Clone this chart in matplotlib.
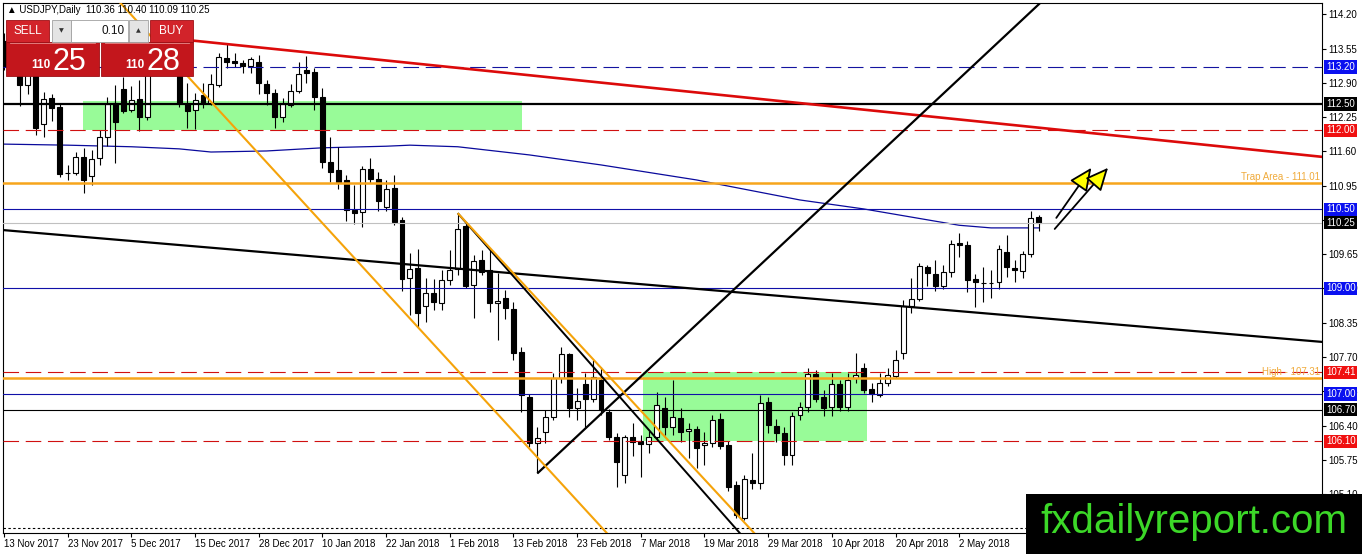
import matplotlib
matplotlib.use('Agg')
import matplotlib.pyplot as plt
from matplotlib.patches import Rectangle
import numpy as np

plt.rcParams['font.family'] = ['Liberation Sans', 'DejaVu Sans']

# ---------------- data ----------------
opens = [113.70, 113.22, 113.42, 112.87, 113.08, 112.12, 112.62, 112.45, 111.19, 111.19,
         111.50, 111.14, 111.48, 111.88, 112.52, 112.79, 112.39, 112.60, 112.26, 113.10,
         113.48, 113.55, 113.50, 112.50, 112.39, 112.67, 112.52, 112.87, 113.38, 113.32,
         113.28, 113.23, 113.30, 112.88, 112.71, 112.26, 112.49, 112.75, 113.15, 113.11,
         112.64, 111.40, 111.25, 111.06, 110.49, 110.45, 111.27, 111.08, 110.55, 110.91,
         110.30, 109.20, 109.39, 108.67, 108.91, 108.72, 109.16, 109.37, 110.19, 109.07,
         109.54, 109.35, 108.72, 108.82, 108.61, 107.79, 106.95, 106.06, 106.27, 106.56,
         107.30, 107.75, 106.73, 107.18, 106.90, 107.26, 106.65, 106.18, 105.47, 106.18,
         106.10, 106.04, 106.18, 106.73, 106.37, 106.54, 106.29, 106.33, 106.03, 106.06,
         106.52, 106.03, 105.27, 104.64, 105.36, 105.30, 106.84, 106.40, 106.25, 105.84,
         106.60, 106.75, 107.38, 106.94, 106.75, 107.18, 106.75, 107.30, 107.49, 107.09,
         106.98, 107.20, 107.34, 107.77, 108.67, 108.80, 109.41, 109.27, 109.05, 109.31,
         109.86, 109.83, 109.18, 109.10, 109.11, 109.12, 109.69, 109.39, 109.33, 109.65,
         110.36]
highs = [113.85, 113.62, 113.48, 113.22, 113.20, 112.73, 112.69, 112.50, 111.35, 111.59,
         111.67, 111.63, 112.01, 112.64, 112.87, 113.02, 112.85, 112.95, 113.15, 113.55,
         113.65, 113.75, 113.60, 112.90, 112.71, 112.90, 113.07, 113.47, 113.64, 113.47,
         113.34, 113.40, 113.44, 112.96, 112.78, 112.62, 112.88, 113.30, 113.42, 113.19,
         112.81, 111.88, 111.69, 111.16, 110.97, 111.33, 111.48, 111.21, 111.06, 111.16,
         110.35, 109.67, 109.75, 109.20, 109.18, 109.35, 109.73, 110.43, 110.26, 109.64,
         109.73, 109.73, 109.29, 108.97, 108.74, 107.89, 107.00, 106.37, 106.69, 107.39,
         107.89, 107.77, 107.11, 107.39, 107.64, 107.51, 106.72, 106.25, 106.22, 106.44,
         106.22, 106.29, 107.03, 106.94, 107.26, 106.73, 106.44, 106.40, 106.27, 106.60,
         106.63, 106.10, 105.35, 105.46, 105.87, 106.98, 106.94, 106.52, 106.37, 106.65,
         106.84, 107.49, 107.45, 107.07, 107.39, 107.26, 107.39, 107.77, 107.58, 107.20,
         107.39, 107.49, 107.83, 108.78, 109.20, 109.48, 109.45, 109.54, 109.45, 109.92,
         110.05, 109.90, 109.28, 109.41, 109.35, 109.83, 110.02, 109.54, 109.71, 110.47,
         110.40]
lows = [113.15, 113.05, 112.47, 112.69, 111.92, 111.88, 112.18, 111.12, 111.06, 111.15,
        110.81, 110.97, 111.35, 111.71, 111.38, 112.33, 112.35, 111.99, 112.20, 113.05,
        113.25, 113.30, 112.45, 112.05, 112.03, 112.42, 112.49, 112.83, 113.19, 113.21,
        113.09, 113.09, 112.69, 112.49, 112.05, 112.16, 112.45, 112.71, 112.90, 112.39,
        111.29, 111.02, 110.89, 110.28, 110.22, 110.17, 111.00, 110.47, 110.47, 110.21,
        108.95, 108.50, 108.27, 108.36, 108.60, 108.59, 109.07, 109.26, 109.01, 108.44,
        109.25, 108.55, 108.02, 108.42, 107.64, 106.65, 106.00, 105.49, 106.06, 106.50,
        107.20, 106.56, 106.50, 106.37, 106.85, 106.60, 106.12, 105.23, 105.30, 105.82,
        105.42, 105.87, 106.10, 106.22, 106.22, 106.08, 105.78, 105.59, 105.65, 106.00,
        105.95, 105.15, 104.64, 104.60, 105.20, 105.20, 106.25, 106.08, 105.65, 105.65,
        106.50, 106.65, 106.85, 106.58, 106.58, 106.67, 106.67, 107.20, 107.01, 106.84,
        106.95, 107.15, 107.30, 107.66, 108.53, 108.76, 109.05, 108.95, 108.99, 109.22,
        109.60, 108.93, 108.65, 108.74, 108.82, 108.99, 109.22, 109.12, 109.20, 109.60,
        110.09]
closes = [113.22, 113.42, 112.87, 113.08, 112.05, 112.60, 112.43, 111.17, 111.20, 111.50,
          111.06, 111.46, 111.88, 112.50, 112.16, 112.37, 112.58, 112.26, 113.10, 113.48,
          113.55, 113.52, 112.52, 112.37, 112.58, 112.52, 112.88, 113.40, 113.30, 113.28,
          113.23, 113.36, 112.90, 112.71, 112.26, 112.50, 112.75, 113.07, 113.09, 112.64,
          111.40, 111.21, 111.02, 110.49, 110.43, 111.27, 111.08, 110.66, 110.89, 110.26,
          109.18, 109.37, 108.53, 108.91, 108.74, 109.16, 109.35, 110.13, 109.05, 109.52,
          109.31, 108.72, 108.76, 108.63, 107.77, 106.97, 106.06, 106.16, 106.56, 107.30,
          107.75, 106.73, 106.86, 106.90, 107.32, 106.69, 106.18, 105.70, 106.18, 106.08,
          106.04, 106.18, 106.79, 106.37, 106.56, 106.27, 106.33, 105.97, 106.06, 106.50,
          106.01, 105.23, 104.70, 105.38, 105.30, 106.82, 106.41, 106.25, 105.84, 106.58,
          106.75, 107.38, 106.90, 106.73, 107.18, 106.75, 107.26, 107.36, 107.07, 106.99,
          107.20, 107.36, 107.64, 108.67, 108.80, 109.43, 109.29, 109.05, 109.31, 109.84,
          109.83, 109.16, 109.12, 109.11, 109.10, 109.75, 109.41, 109.35, 109.65, 110.34,
          110.25]

date_labels = ['13 Nov 2017', '23 Nov 2017', '5 Dec 2017', '15 Dec 2017', '28 Dec 2017',
               '10 Jan 2018', '22 Jan 2018', '1 Feb 2018', '13 Feb 2018', '23 Feb 2018',
               '7 Mar 2018', '19 Mar 2018', '29 Mar 2018', '10 Apr 2018', '20 Apr 2018',
               '2 May 2018']
date_label_bars = [0, 8, 16, 24, 32, 40, 48, 56, 64, 72, 80, 88, 96, 104, 112, 120]

price_ticks = [114.20, 113.55, 112.90, 112.25, 111.60, 110.95, 110.30, 109.65, 109.00,
               108.35, 107.70, 107.05, 106.40, 105.75, 105.10]

# moving average (read at selected bars)
ma_bars = [0, 8, 16, 22, 26, 33, 40, 48, 51, 57, 66, 75, 87, 100, 108, 120, 124, 130]
ma_vals = [111.74, 111.72, 111.69, 111.65, 111.59, 111.61, 111.67, 111.70, 111.72, 111.69,
           111.535, 111.345, 111.06, 110.68, 110.51, 110.20, 110.15, 110.15]

# horizontal levels: (price, color, style, width, label box color)
hlines = [
    (113.20, '#1414a0', 'dash', 0.8, '#0a10f0'),
    (112.50, '#000000', 'solid', 1.6, '#000000'),
    (112.00, '#d01010', 'dash', 0.8, '#f01010'),
    (111.01, '#f7a51c', 'solid', 1.8, None),
    (110.50, '#1010a8', 'solid', 0.8, '#0a10f0'),
    (110.25, '#c0c0c0', 'solid', 0.8, '#000000'),
    (109.00, '#1010a8', 'solid', 0.8, '#0a10f0'),
    (107.41, '#d01010', 'dash', 0.8, '#f01010'),
    (107.31, '#f7a51c', 'solid', 1.8, None),
    (107.00, '#1010a8', 'solid', 0.8, '#0a10f0'),
    (106.70, '#000000', 'solid', 0.8, '#000000'),
    (106.10, '#d01010', 'dash', 0.8, '#f01010'),
]
dotted_level = 104.46

# trend lines: ((bar, price), (bar, price), color, width)
trendlines = [
    ((21, 113.747), (170, 111.43), '#dc0a0a', 1.9),
    ((-1, 110.12), (170, 107.93), '#000000', 1.6),
    ((67, 105.49), (135, 115.10), '#000000', 1.6),
    ((57, 110.43), (95, 103.92), '#000000', 1.4),
    ((57, 110.43), (97, 103.91), '#f5a30a', 1.5),
    ((13, 114.685), (77, 104.15), '#f5a30a', 1.5),
]

# zones: (bar_start, bar_end, price_low, price_high)
zones = [(9.92, 65.1, 112.00, 112.56), (80.3, 108.4, 106.10, 107.41)]

# arrows: (tail bar, tail price, tip bar, tip price)
arrows = [(132.2, 110.34, 136.6, 111.29), (132.0, 110.13, 138.7, 111.29)]

level_texts = [(111.01, 'Trap Area - 111.01'), (107.31, 'High - 107.31')]

symbol_header = '\u25b2 USDJPY,Daily  110.36 110.40 110.09 110.25'
sell_big, buy_big, price_head, lot = '25', '28', '110', '0.10'

# ---------------- figure ----------------
W, H = 1362, 554
fig = plt.figure(figsize=(W / 100, H / 100), dpi=100)
fig.patch.set_facecolor('white')

L, R, T, B = 3, 1322, 3, 533
ax = fig.add_axes([L / W, (H - B) / H, (R - L) / W, (B - T) / H])
ax.set_xlim(-0.126, 165.58)
ax.set_ylim(104.36, 114.418)
for s in ax.spines.values():
    s.set_linewidth(0.8)
    s.set_color('black')

# zones
for b0, b1, p0, p1 in zones:
    ax.add_patch(Rectangle((b0, p0), b1 - b0, p1 - p0, facecolor='#98fb98',
                           edgecolor='none', zorder=1))

# moving average
ax.plot(ma_bars, ma_vals, color='#0a0a9c', lw=0.9, zorder=2)

# candles
o = np.array(opens); h = np.array(highs); l = np.array(lows); c = np.array(closes)
x = np.arange(len(o))
bull = c >= o
ax.vlines(x, l, h, color='black', lw=0.8, zorder=3)
ax.bar(x[bull], (c - o)[bull], bottom=o[bull], width=0.62, facecolor='white',
       edgecolor='black', linewidth=0.8, zorder=3.1)
ax.bar(x[~bull], (o - c)[~bull], bottom=c[~bull], width=0.62, facecolor='black',
       edgecolor='black', linewidth=0.8, zorder=3.1)

# horizontal levels
for p, col, sty, lw, box in hlines:
    if sty == 'dash':
        ax.axhline(p, color=col, lw=lw, dashes=(14, 6), zorder=4)
    else:
        ax.axhline(p, color=col, lw=lw, zorder=4)
ax.axhline(dotted_level, color='black', lw=0.8, dashes=(2.2, 2.2), zorder=4)

# trend lines
for (b0, p0), (b1, p1), col, lw in trendlines:
    ax.plot([b0, b1], [p0, p1], color=col, lw=lw, zorder=4.5, solid_capstyle='butt')

# level texts
for p, txt in level_texts:
    ax.annotate(txt, xy=(1, p), xycoords=('axes fraction', 'data'), xytext=(-2, 1),
                textcoords='offset pixels', ha='right', va='bottom', fontsize=7,
                color='#f0ab3c', zorder=5, annotation_clip=False)

# arrows
for tb, tp, hb, hp in arrows:
    ax.annotate('', xy=(hb, hp), xytext=(tb, tp),
                arrowprops=dict(arrowstyle='-|>,head_length=0.7,head_width=0.32',
                                fc='#ffff00', ec='black', lw=1.3, mutation_scale=20,
                                shrinkA=0, shrinkB=0), zorder=6)

# axes ticks
ax.yaxis.tick_right()
ax.set_yticks(price_ticks)
ax.set_yticklabels(['%.2f' % t for t in price_ticks])
ax.tick_params(axis='y', direction='out', length=3, width=0.8, pad=1.5,
               labelsize=7, colors='black')
ax.set_xticks(date_label_bars)
ax.set_xticklabels(date_labels, ha='left')
ax.tick_params(axis='x', direction='out', length=3, width=0.8, pad=1.5, labelsize=7)

# price boxes on right axis
for p, col, sty, lw, box in hlines:
    if box is None:
        continue
    ax.annotate('%.2f' % p, xy=(1, p), xycoords=('axes fraction', 'data'),
                xytext=(4, 0), textcoords='offset pixels', ha='left', va='center',
                fontsize=7, color='white', zorder=7, annotation_clip=False,
                bbox=dict(boxstyle='square,pad=0.18', fc=box, ec='none'))

# ---------------- overlay (panel, header, watermark) ----------------
ov = fig.add_axes([0, 0, 1, 1], zorder=10)
ov.set_xlim(0, W); ov.set_ylim(H, 0); ov.axis('off')
ov.patch.set_alpha(0)

ov.text(7, 10, symbol_header, fontsize=7, ha='left', va='center', color='black')

red_btn, red_box = '#d2232a', '#c3161c'
ov.add_patch(Rectangle((6, 20), 43, 22, fc=red_btn, ec='#9e1015', lw=0.6))
ov.add_patch(Rectangle((150, 20), 43, 22, fc=red_btn, ec='#9e1015', lw=0.6))
ov.add_patch(Rectangle((6, 42), 93, 34, fc=red_box, ec='#9e1015', lw=0.6))
ov.add_patch(Rectangle((101, 42), 92, 34, fc=red_box, ec='#9e1015', lw=0.6))
ov.plot([10, 95], [43, 43], color='#e88a8a', lw=0.6)
ov.plot([105, 189], [43, 43], color='#e88a8a', lw=0.6)
ov.add_patch(Rectangle((52, 20), 19, 22, fc='#e4e4e4', ec='#a0a0a0', lw=0.6))
ov.add_patch(Rectangle((71, 20), 57, 22, fc='white', ec='#a0a0a0', lw=0.6))
ov.add_patch(Rectangle((129, 20), 19, 22, fc='#e4e4e4', ec='#a0a0a0', lw=0.6))
ov.text(61.5, 31, '\u25bc', fontsize=4.5, ha='center', va='center', color='#333333',
        family=['DejaVu Sans'])
ov.text(138.5, 31, '\u25b2', fontsize=4.5, ha='center', va='center', color='#333333',
        family=['DejaVu Sans'])
ov.text(125, 31.5, lot, fontsize=8.5, ha='right', va='center', color='#111111')
ov.text(27.5, 31.5, 'SELL', fontsize=8.5, ha='center', va='center', color='white')
ov.text(171.5, 31.5, 'BUY', fontsize=8.5, ha='center', va='center', color='white')
ov.text(51, 68.5, price_head, fontsize=8.5, ha='right', va='baseline', color='white',
        fontweight='bold')
ov.text(52, 70, sell_big, fontsize=22, ha='left', va='baseline', color='white')
ov.text(144, 68.5, price_head, fontsize=8.5, ha='right', va='baseline', color='white',
        fontweight='bold')
ov.text(146, 70, buy_big, fontsize=22, ha='left', va='baseline', color='white')

ov.add_patch(Rectangle((1026, 494), 336, 60, fc='black', ec='none'))
ov.text(1194, 522, 'fxdailyreport.com', fontsize=29, ha='center', va='center',
        color='#3cd828')

fig.savefig('out.png', dpi=100, facecolor='white')
